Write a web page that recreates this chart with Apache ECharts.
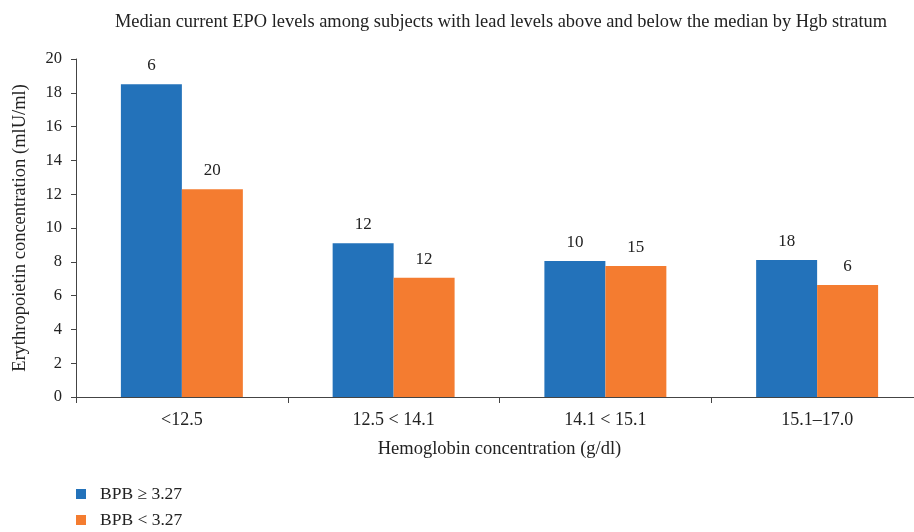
<!DOCTYPE html>
<html>
<head>
<meta charset="utf-8">
<script src="https://cdn.jsdelivr.net/npm/echarts@6/dist/echarts.min.js"></script>
<style>html,body{margin:0;padding:0;background:#fff;overflow:hidden;width:914px;height:532px}#c{width:930px;height:532px}</style>
</head>
<body>
<div id="c"></div>
<script>
const categories = ['<12.5', '12.5 < 14.1', '14.1 < 15.1', '15.1\u201317.0'];
const seriesNames = ['BPB \u2265 3.27', 'BPB < 3.27'];
const highValues = [18.5, 9.1, 8.05, 8.1];
const lowValues = [12.3, 7.05, 7.75, 6.63];
const highCounts = [6, 12, 10, 18];
const lowCounts = [20, 12, 15, 6];
const yTicks = {min: 0, max: 20, interval: 2};

const FONT = '"Liberation Serif", "DejaVu Serif", serif';
const chart = echarts.init(document.getElementById('c'));
function mkSeries(name, data, counts, color) {
  return {
    name: name, type: 'bar', data: data,
    barGap: '0%', barCategoryGap: '42.4%',
    itemStyle: {color: color},
    label: {
      show: true, position: 'top', distance: 10,
      fontFamily: FONT, fontSize: 17, color: '#222',
      formatter: p => String(counts[p.dataIndex])
    }
  };
}
chart.setOption({
  animation: false,
  title: {
    text: 'Median current EPO levels among subjects with lead levels above and below the median by Hgb stratum',
    left: 496, top: 8, textAlign: 'center',
    textStyle: {fontFamily: FONT, fontSize: 18.4, fontWeight: 'normal', color: '#222'}
  },
  legend: {
    orient: 'vertical', left: 76, top: 485, padding: 0, itemWidth: 10, itemHeight: 10, itemGap: 8,
    icon: 'rect', textStyle: {fontFamily: FONT, fontSize: 17.5, color: '#222', padding: [0, 0, 0, 9]},
    data: seriesNames
  },
  grid: {left: 76, right: 7, top: 59, bottom: 135, containLabel: false},
  xAxis: {
    type: 'category', data: categories,
    name: 'Hemoglobin concentration (g/dl)', nameLocation: 'middle', nameGap: 43,
    nameTextStyle: {fontFamily: FONT, fontSize: 18.5, color: '#222'},
    axisLine: {lineStyle: {color: '#444', width: 1}},
    axisTick: {show: true, alignWithLabel: false, length: 6, lineStyle: {color: '#444'}},
    axisLabel: {fontFamily: FONT, fontSize: 18, color: '#222', margin: 14}
  },
  yAxis: {
    type: 'value', min: yTicks.min, max: yTicks.max, interval: yTicks.interval,
    name: 'Erythropoietin concentration (mlU/ml)', nameLocation: 'middle', nameGap: 46,
    nameTextStyle: {fontFamily: FONT, fontSize: 18.5, color: '#222'},
    axisLine: {show: true, lineStyle: {color: '#444', width: 1}},
    axisTick: {show: true, length: 5, lineStyle: {color: '#444'}},
    axisLabel: {fontFamily: FONT, fontSize: 16.5, color: '#222', margin: 14},
    splitLine: {show: false}
  },
  series: [
    mkSeries(seriesNames[0], highValues, highCounts, '#2372BA'),
    mkSeries(seriesNames[1], lowValues, lowCounts, '#F47C30')
  ]
});
</script>
</body>
</html>
